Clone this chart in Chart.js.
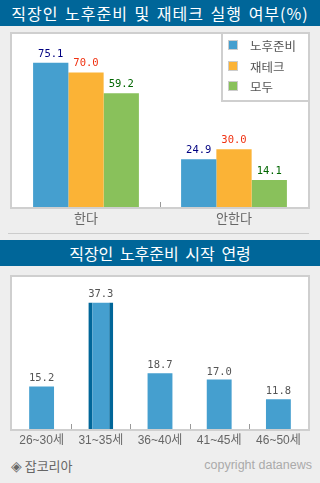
<!DOCTYPE html>
<html><head><meta charset="utf-8">
<script src="https://cdn.jsdelivr.net/npm/chart.js@4"></script>
<style>
html,body{margin:0;padding:0;}
body{width:320px;height:483px;background:#eeeeee;position:relative;overflow:hidden;font-family:"Noto Sans CJK KR",sans-serif;}
.bar{position:absolute;left:0;width:320px;height:26px;line-height:26px;background:#006699;color:#fff;text-align:center;font-size:16px;white-space:nowrap;}
.sep{position:absolute;left:8px;width:301px;height:1px;background:#cccccc;}
canvas{position:absolute;left:0;}
#f1{position:absolute;left:11px;top:456px;font-size:13px;color:#666;}
#f1 span{font-size:14px;font-family:"DejaVu Sans",sans-serif;}
#f2{position:absolute;right:8px;top:458px;font-size:12.5px;color:#aaa;font-family:"Liberation Sans",Arial,sans-serif;}
</style></head>
<body>
<div class="bar" id="t1" style="top:0;letter-spacing:1px;word-spacing:2px;">직장인 노후준비 및 재테크 실행 여부(%)</div>
<canvas id="c1" width="320" height="204" style="top:26px"></canvas>
<div class="sep" style="top:233px"></div>
<div class="bar" id="t2" style="top:240px;word-spacing:3px;">직장인 노후준비 시작 연령</div>
<canvas id="c2" width="320" height="186" style="top:266px"></canvas>
<div id="f1"><span>◈</span> 잡코리아</div>
<div id="f2">copyright datanews</div>
<script>
const groupLabels = ['한다', '안한다'];
const seriesNames = ['노후준비', '재테크', '모두'];
const prepValues = [75.1, 24.9];
const investValues = [70.0, 30.0];
const bothValues = [59.2, 14.1];
const ageLabels = ['26~30세', '31~35세', '36~40세', '41~45세', '46~50세'];
const ageValues = [15.2, 37.3, 18.7, 17.0, 11.8];

const seriesColors = ['#459fcf', '#fbb336', '#89c15b'];
const labelColors = ['#000080', '#f03010', '#006600'];
const KFONT = '"Noto Sans CJK KR", sans-serif';
const NFONT = '10.5px "DejaVu Sans Mono", monospace';

const framePlugin = {
  id: 'frame',
  beforeDraw(chart) {
    const {ctx, chartArea: a} = chart;
    ctx.save();
    ctx.fillStyle = '#ffffff';
    ctx.fillRect(a.left, a.top, a.width, a.height);
    ctx.restore();
  },
  afterDraw(chart) {
    const {ctx, chartArea: a} = chart;
    ctx.save();
    ctx.strokeStyle = '#cfcfcf';
    ctx.lineWidth = 2;
    ctx.strokeRect(a.left - 1, a.top - 1, a.width + 2, a.height + 2);
    const xs = chart.scales.x;
    const n = xs.ticks.length;
    ctx.strokeStyle = '#999999';
    ctx.lineWidth = 1;
    for (let i = 1; i < n; i++) {
      const px = Math.round((xs.getPixelForTick(i - 1) + xs.getPixelForTick(i)) / 2) + 0.5;
      ctx.beginPath();
      ctx.moveTo(px, a.bottom);
      ctx.lineTo(px, a.bottom - 5);
      ctx.stroke();
    }
    ctx.restore();
  }
};

const valuePlugin = {
  id: 'values',
  afterDatasetsDraw(chart, args, opts) {
    const {ctx} = chart;
    ctx.save();
    ctx.font = NFONT;
    ctx.textAlign = 'center';
    ctx.textBaseline = 'alphabetic';
    chart.data.datasets.forEach((ds, di) => {
      const meta = chart.getDatasetMeta(di);
      meta.data.forEach((el, i) => {
        ctx.fillStyle = opts.colors ? opts.colors[di] : '#555';
        ctx.fillText(ds.data[i].toFixed(1), el.x, el.y - opts.gap);
      });
    });
    ctx.restore();
  }
};

const legendBoxPlugin = {
  id: 'legendBox',
  afterDatasetsDraw(chart) {
    const {ctx, chartArea: a} = chart;
    const left = a.right - 87, top = a.top, h = 66;
    ctx.save();
    ctx.fillStyle = '#ffffff';
    ctx.fillRect(left, top, a.right - left, h);
    ctx.strokeStyle = '#cfcfcf';
    ctx.lineWidth = 2;
    ctx.beginPath();
    ctx.moveTo(left + 1, top);
    ctx.lineTo(left + 1, top + h + 1);
    ctx.lineTo(a.right, top + h + 1);
    ctx.stroke();
    const rows = [11, 32, 52];
    ctx.font = '12.5px ' + KFONT;
    ctx.textBaseline = 'middle';
    chart.data.datasets.forEach((ds, i) => {
      const cy = top + rows[i];
      ctx.fillStyle = '#cccccc';
      ctx.fillRect(left + 7, cy - 5, 10, 10);
      ctx.fillStyle = ds.backgroundColor;
      ctx.fillRect(left + 8, cy - 4, 8, 8);
      ctx.fillStyle = '#555555';
      ctx.fillText(ds.label, left + 29, cy + 1);
    });
    ctx.restore();
  }
};

Chart.defaults.animation = false;

new Chart(document.getElementById('c1'), {
  type: 'bar',
  data: {
    labels: groupLabels,
    datasets: [
      {label: seriesNames[0], data: prepValues, backgroundColor: seriesColors[0]},
      {label: seriesNames[1], data: investValues, backgroundColor: seriesColors[1]},
      {label: seriesNames[2], data: bothValues, backgroundColor: seriesColors[2]}
    ]
  },
  options: {
    responsive: false,
    devicePixelRatio: 1,
    layout: {padding: {top: 8, left: 12, right: 12, bottom: 0}},
    datasets: {bar: {categoryPercentage: 0.715, barPercentage: 1, borderWidth: 0}},
    plugins: {
      legend: {display: false},
      tooltip: {enabled: false},
      values: {colors: labelColors, gap: 6}
    },
    scales: {
      y: {display: false, min: 0, max: 90},
      x: {
        grid: {display: false, drawTicks: false},
        border: {display: false},
        ticks: {padding: 3, color: '#666666', font: {family: KFONT, size: 13}},
        afterFit(s) { s.height = 23; }
      }
    }
  },
  plugins: [framePlugin, valuePlugin, legendBoxPlugin]
});

new Chart(document.getElementById('c2'), {
  type: 'bar',
  data: {
    labels: ageLabels,
    datasets: [{
      label: '시작 연령',
      data: ageValues,
      backgroundColor: '#459fcf',
      borderColor: '#006699',
      borderSkipped: false,
      borderWidth: [0, {left: 4, right: 4, top: 0, bottom: 0}, 0, 0, 0]
    }]
  },
  options: {
    responsive: false,
    devicePixelRatio: 1,
    layout: {padding: {top: 11, left: 12, right: 12, bottom: 0}},
    datasets: {bar: {categoryPercentage: 1, barPercentage: 0.42}},
    plugins: {
      legend: {display: false},
      tooltip: {enabled: false},
      values: {gap: 5}
    },
    scales: {
      y: {display: false, min: 4, max: 44},
      x: {
        grid: {display: false, drawTicks: false},
        border: {display: false},
        ticks: {padding: 4, color: '#666666', font: {family: '"Liberation Sans", ' + KFONT, size: 12}},
        afterFit(s) { s.height = 23; }
      }
    }
  },
  plugins: [framePlugin, valuePlugin]
});
</script>
</body></html>
